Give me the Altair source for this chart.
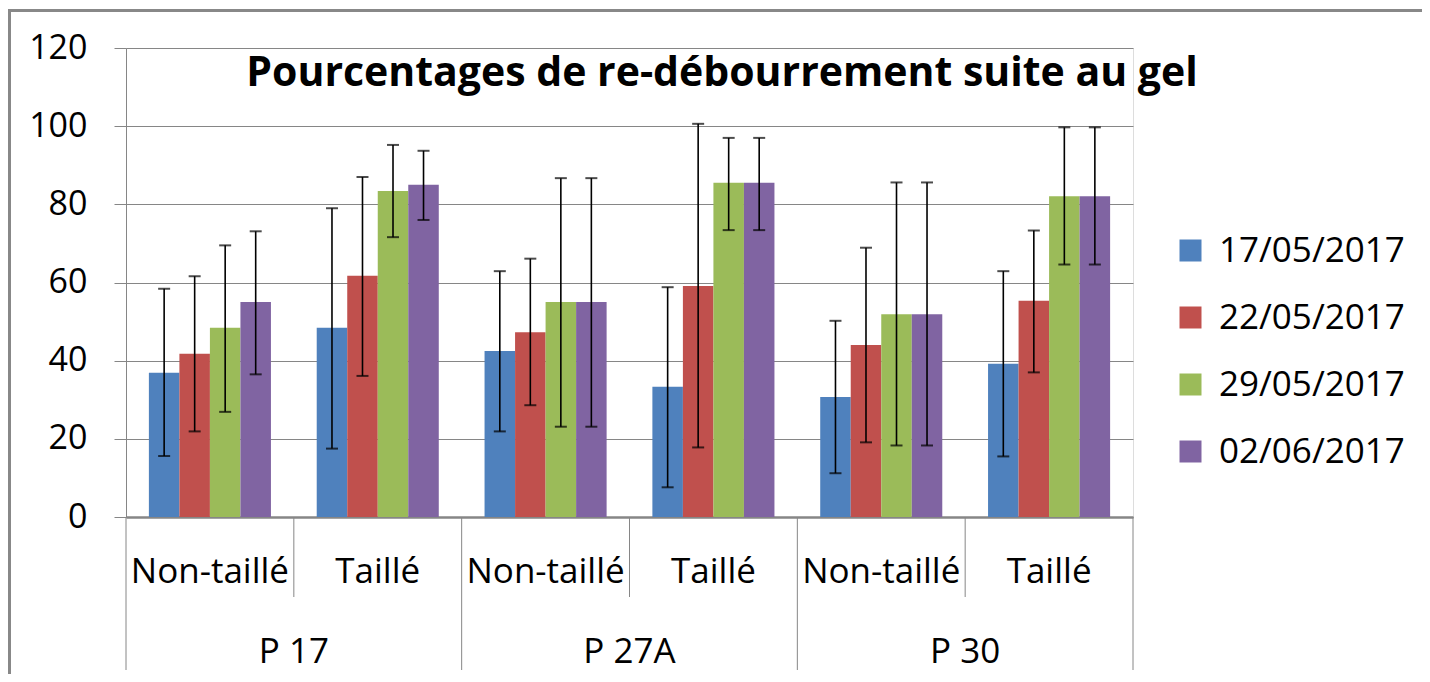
import altair as alt
import pandas as pd

# ---- data ----
groups = ["P 17", "P 17", "P 27A", "P 27A", "P 30", "P 30"]
subs = ["Non-taillé", "Taillé", "Non-taillé", "Taillé", "Non-taillé", "Taillé"]
dates = ["17/05/2017", "22/05/2017", "29/05/2017", "02/06/2017"]

v_1705 = [36.9, 48.4, 42.5, 33.3, 30.7, 39.2]
v_2205 = [41.8, 61.7, 47.3, 59.1, 44.0, 55.3]
v_2905 = [48.4, 83.4, 55.0, 85.5, 51.9, 82.1]
v_0206 = [55.0, 85.0, 55.0, 85.5, 51.9, 82.1]

lo_1705 = [15.6, 17.5, 21.9, 7.6, 11.2, 15.5]
hi_1705 = [58.4, 79.0, 62.9, 58.8, 50.2, 62.9]
lo_2205 = [21.9, 36.1, 28.6, 17.8, 19.1, 37.0]
hi_2205 = [61.6, 87.0, 66.1, 100.6, 68.9, 73.3]
lo_2905 = [26.9, 71.6, 23.1, 73.4, 18.3, 64.6]
hi_2905 = [69.5, 95.2, 86.7, 97.0, 85.6, 99.7]
lo_0206 = [36.5, 76.0, 23.1, 73.4, 18.3, 64.6]
hi_0206 = [73.1, 93.7, 86.7, 97.0, 85.6, 99.7]

y_ticks = [0, 20, 40, 60, 80, 100, 120]
title_text = "Pourcentages de re-débourrement suite au gel"
colors = ["#4F81BD", "#C0504D", "#9BBB59", "#8064A2"]

# ---- build table ----
cats = [g + "|" + s for g, s in zip(groups, subs)]
vals = [v_1705, v_2205, v_2905, v_0206]
los = [lo_1705, lo_2205, lo_2905, lo_0206]
his = [hi_1705, hi_2205, hi_2905, hi_0206]
rows = []
for d, vv, ll, hh in zip(dates, vals, los, his):
    for c, v, l, h in zip(cats, vv, ll, hh):
        rows.append({"cat": c, "date": d, "value": v, "lo": l, "hi": h})
df = pd.DataFrame(rows)

W, H = 1007, 469
FONT = "Open Sans"
GRAY = "#868686"

x_enc = alt.X(
    "cat:N", sort=cats,
    scale=alt.Scale(paddingInner=0, paddingOuter=0),
    axis=alt.Axis(
        title=None, ticks=False, grid=False,
        labelExpr="split(datum.label, '|')[1]",
        labelPadding=37, labelFont=FONT, labelFontSize=35, labelColor="black",
        labelOverlap=False, labelAngle=0,
        domainColor=GRAY, domainWidth=2.5,
    ),
)
xo_enc = alt.XOffset("date:N", sort=dates, scale=alt.Scale(paddingInner=0, paddingOuter=0.75))
y_scale = alt.Scale(domain=[0, 120], nice=False)

bars = alt.Chart(df).mark_bar().encode(
    x=x_enc,
    xOffset=xo_enc,
    y=alt.Y("value:Q", scale=y_scale, axis=alt.Axis(
        title=None, values=y_ticks, grid=True, gridColor=GRAY, gridWidth=1,
        domainColor=GRAY, tickColor=GRAY, tickSize=12, labelPadding=27,
        labelFont=FONT, labelFontSize=34, labelColor="black",
    )),
    color=alt.Color("date:N", sort=dates, scale=alt.Scale(domain=dates, range=colors),
                    legend=alt.Legend(
                        title=None, orient="none", legendX=1047, legendY=185,
                        symbolType="square", symbolSize=484, symbolStrokeWidth=0,
                        labelFont=FONT, labelFontSize=35, labelColor="black",
                        labelOffset=11, rowPadding=31, padding=0, labelLimit=400,
                    )),
)

err = alt.Chart(df).mark_rule(color="black", strokeWidth=1.6).encode(
    x=alt.X("cat:N", sort=cats), xOffset=xo_enc,
    y=alt.Y("lo:Q", scale=y_scale), y2="hi:Q",
)
cap_lo = alt.Chart(df).mark_tick(color="black", size=12, thickness=2, orient="horizontal").encode(
    x=alt.X("cat:N", sort=cats), xOffset=xo_enc, y=alt.Y("lo:Q", scale=y_scale),
)
cap_hi = alt.Chart(df).mark_tick(color="black", size=12, thickness=2, orient="horizontal").encode(
    x=alt.X("cat:N", sort=cats), xOffset=xo_enc, y=alt.Y("hi:Q", scale=y_scale),
)

# category separators (two-level axis like Excel)
sep_df = pd.DataFrame({"cat": cats, "group": groups, "sub": subs})
first_df = sep_df[sep_df["sub"] == "Non-taillé"]
second_df = sep_df[sep_df["sub"] == "Taillé"]
last_df = sep_df.tail(1)

sep_short = alt.Chart(second_df).mark_rule(color=GRAY, strokeWidth=1).encode(
    x=alt.X("cat:N", sort=cats, bandPosition=0), y=alt.value(H), y2=alt.value(H + 80),
)
sep_tall = alt.Chart(first_df).mark_rule(color=GRAY, strokeWidth=1).encode(
    x=alt.X("cat:N", sort=cats, bandPosition=0), y=alt.value(H), y2=alt.value(H + 153),
)
sep_end = alt.Chart(last_df).mark_rule(color=GRAY, strokeWidth=1).encode(
    x=alt.X("cat:N", sort=cats, bandPosition=1), y=alt.value(H), y2=alt.value(H + 153),
)
group_labels = alt.Chart(first_df).mark_text(
    font=FONT, fontSize=35, color="black", baseline="alphabetic", align="center",
).encode(
    x=alt.X("cat:N", sort=cats, bandPosition=1), y=alt.value(H + 146), text="group:N",
)

title = alt.Chart(pd.DataFrame({"t": [title_text]})).mark_text(
    font=FONT, fontSize=41, fontWeight="bold", color="black",
    baseline="alphabetic", align="center",
).encode(x=alt.value(596), y=alt.value(38), text="t:N")

frame_top = alt.Chart(pd.DataFrame({"a": [0]})).mark_rule(color="#888888", strokeWidth=3).encode(
    x=alt.value(-120), x2=alt.value(1320), y=alt.value(-37.5),
)
frame_left = alt.Chart(pd.DataFrame({"a": [0]})).mark_rule(color="#888888", strokeWidth=3).encode(
    x=alt.value(-116.5), y=alt.value(-39), y2=alt.value(H + 160),
)

chart = alt.layer(
    bars, err, cap_lo, cap_hi, sep_short, sep_tall, sep_end, group_labels, title,
    frame_top, frame_left,
).properties(
    width=W, height=H,
    autosize=alt.AutoSizeParams(type="none"),
    padding={"left": 118, "top": 40, "right": 289, "bottom": 157},
).configure_view(stroke=None).configure(background="white")

chart.save("out.html", embed_options={"renderer": "svg", "actions": False})
